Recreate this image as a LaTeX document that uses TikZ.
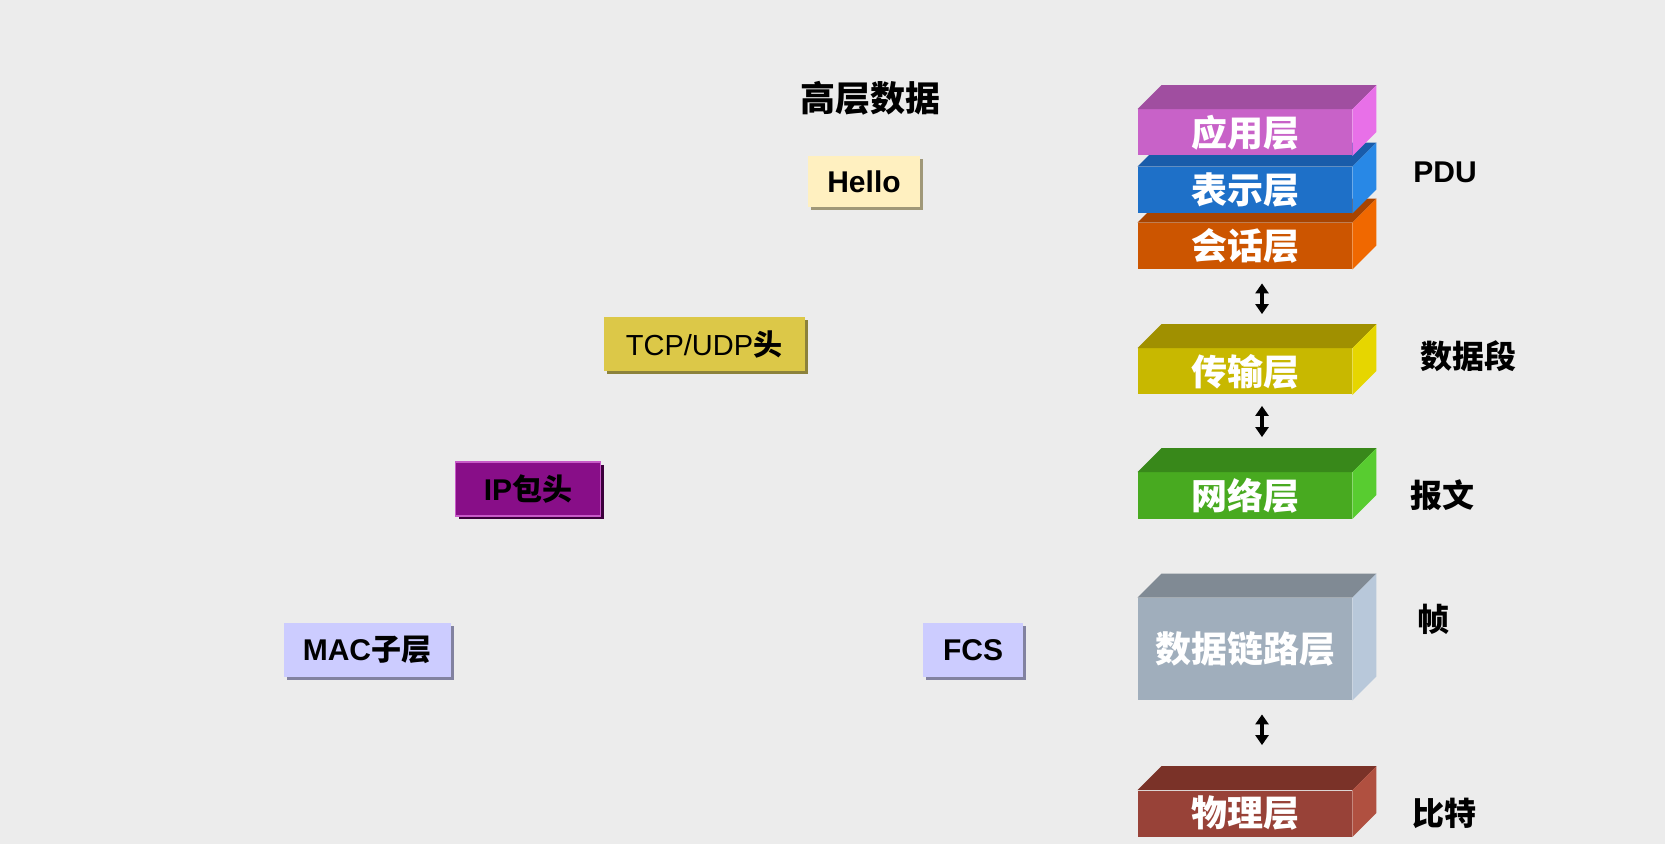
\documentclass[tikz,border=0pt]{standalone}
\usepackage{fontspec}
\setmainfont{Liberation Sans}
\newfontfamily\cjk{Noto Sans CJK SC}
\usetikzlibrary{arrows.meta,shadows}

\definecolor{bg}{RGB}{236,236,236}
\definecolor{appF}{RGB}{200,98,200}   \definecolor{appT}{RGB}{160,78,160}  \definecolor{appS}{RGB}{232,112,232}
\definecolor{preF}{RGB}{30,112,200}   \definecolor{preT}{RGB}{25,92,170}   \definecolor{preS}{RGB}{40,136,230}
\definecolor{sesF}{RGB}{204,85,0}     \definecolor{sesT}{RGB}{168,68,0}    \definecolor{sesS}{RGB}{240,104,0}
\definecolor{traF}{RGB}{200,184,0}    \definecolor{traT}{RGB}{160,144,0}   \definecolor{traS}{RGB}{230,214,0}
\definecolor{netF}{RGB}{72,170,32}    \definecolor{netT}{RGB}{56,136,26}   \definecolor{netS}{RGB}{88,204,48}
\definecolor{lnkF}{RGB}{160,174,188}  \definecolor{lnkT}{RGB}{128,138,148} \definecolor{lnkS}{RGB}{184,200,218}
\definecolor{phyF}{RGB}{152,66,56}    \definecolor{phyT}{RGB}{122,50,40}   \definecolor{phyS}{RGB}{176,80,64}
\definecolor{helloF}{RGB}{255,240,192} \definecolor{helloS}{RGB}{160,152,120}
\definecolor{tcpF}{RGB}{220,200,72}    \definecolor{tcpS}{RGB}{140,130,60}
\definecolor{ipF}{RGB}{136,14,136}     \definecolor{ipS}{RGB}{60,0,60}  \definecolor{ipB}{RGB}{200,90,200}
\definecolor{macF}{RGB}{204,204,255}   \definecolor{macS}{RGB}{130,130,160}

\tikzstyle{layer} = [rectangle, minimum width=107pt, minimum height=23pt, inner sep=0pt, text=white, font=\cjk\bfseries\fontsize{18}{20}\selectfont]
\tikzstyle{hdr} = [rectangle, minimum height=27pt, inner sep=0pt, font=\bfseries\fontsize{15}{18}\selectfont]
\tikzstyle{pdu} = [anchor=west, inner sep=0pt, font=\bfseries\fontsize{15}{18}\selectfont]
\tikzstyle{updown} = [{Triangle[width=6.5pt,length=5pt]}-{Triangle[width=6.5pt,length=5pt]}, line width=1.7pt]

\begin{document}
\begin{tikzpicture}[x=0.5pt,y=-0.5pt]
  \def\dep{12pt}
  \def\faces#1#2#3{%
    \fill[#2] (#1.north west) -- ([shift={(\dep,\dep)}]#1.north west) -- ([shift={(\dep,\dep)}]#1.north east) -- (#1.north east) -- cycle;
    \fill[#3] (#1.north east) -- ([shift={(\dep,\dep)}]#1.north east) -- ([shift={(\dep,\dep)}]#1.south east) -- (#1.south east) -- cycle;}

  \fill[bg] (0,0) rectangle (1665,844);
  \useasboundingbox (0,0) rectangle (1665,844);

  % layer stack, drawn bottom up
  \node[layer, fill=phyF] (phy) at (1245,813.5) {物理层};
  \faces{phy}{phyT}{phyS}
  \node[layer, fill=lnkF, minimum height=51pt] (link) at (1245,649) {数据链路层};
  \faces{link}{lnkT}{lnkS}
  \node[layer, fill=netF] (net) at (1245,495.5) {网络层};
  \faces{net}{netT}{netS}
  \node[layer, fill=traF] (trans) at (1245,371.5) {传输层};
  \faces{trans}{traT}{traS}
  \node[layer, fill=sesF] (sess) at (1245,246) {会话层};
  \faces{sess}{sesT}{sesS}
  \node[layer, fill=preF] (pres) at (1245,190) {表示层};
  \faces{pres}{preT}{preS}
  \node[layer, fill=appF] (app) at (1245,132.5) {应用层};
  \faces{app}{appT}{appS}

  \draw[updown] ([xshift=8.5pt,yshift=-7pt]sess.south) -- ([xshift=8.5pt,yshift=17pt]trans.north);
  \draw[updown] ([xshift=8.5pt,yshift=-5.5pt]trans.south) -- ([xshift=8.5pt,yshift=17.5pt]net.north);
  \draw[updown] ([xshift=8.5pt,yshift=-7pt]link.south) -- ([xshift=8.5pt,yshift=22.5pt]phy.north);

  % unit names
  \node[pdu] (l_pdu) at (1413,172.5) {PDU};
  \node[pdu, font=\cjk\bfseries\fontsize{16}{18}\selectfont] (l_seg) at (1420,356) {数据段};
  \node[pdu, font=\cjk\bfseries\fontsize{16}{18}\selectfont] (l_pkt) at (1410,495) {报文};
  \node[pdu, font=\cjk\bfseries\fontsize{16}{18}\selectfont] (l_frm) at (1417,619) {帧};
  \node[pdu, font=\cjk\bfseries\fontsize{16}{18}\selectfont] (l_bit) at (1412,813) {比特};

  % encapsulation
  \node[font=\cjk\bfseries\fontsize{17.5}{20}\selectfont] (data) at (870,98) {高层数据};
  \node[hdr, fill=helloF, minimum width=56pt, minimum height=25.5pt, drop shadow={shadow xshift=1.5pt, shadow yshift=-1.5pt, fill=helloS, opacity=1}] (hello) at (864,182) {Hello};
  \node[hdr, fill=tcpF, minimum width=100.5pt, font=\fontsize{14.5}{18}\selectfont, drop shadow={shadow xshift=1.5pt, shadow yshift=-1.5pt, fill=tcpS, opacity=1}] (tcp) at (704,344.5) {TCP/UDP{\cjk\bfseries 头}};
  \node[hdr, fill=ipF, draw=ipB, line width=0.8pt, minimum width=72.5pt, drop shadow={shadow xshift=1.5pt, shadow yshift=-1.5pt, fill=ipS, opacity=1}] (ip) at (528,489) {IP{\cjk 包头}};
  \node[hdr, fill=macF, minimum width=83.5pt, drop shadow={shadow xshift=1.5pt, shadow yshift=-1.5pt, fill=macS, opacity=1}] (mac) at (367,650) {MAC{\cjk 子层}};
  \node[hdr, fill=macF, minimum width=50pt, drop shadow={shadow xshift=1.5pt, shadow yshift=-1.5pt, fill=macS, opacity=1}] (fcs) at (973,650) {FCS};
\end{tikzpicture}
\end{document}
